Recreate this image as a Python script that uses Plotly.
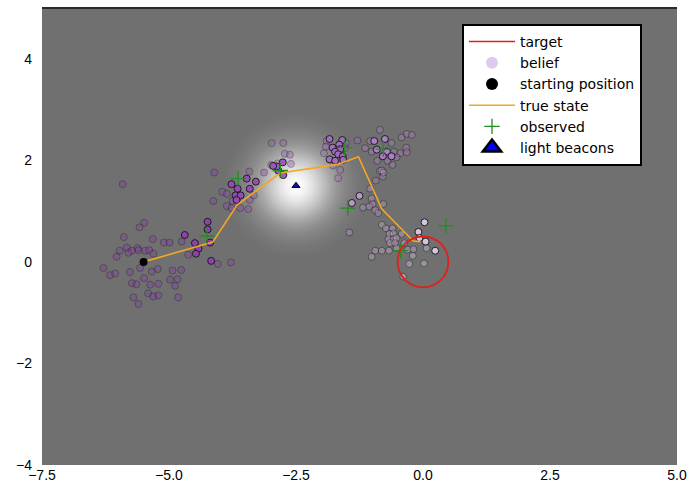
import math
import plotly.graph_objects as go

# ---------------- data ----------------
true_x = [-5.50, -4.14, -3.66, -2.81, -1.68, -1.27, -0.81, -0.19, -0.05]
true_y = [0.00, 0.39, 1.12, 1.75, 1.92, 2.07, 1.04, 0.41, 0.40]

obs_x = [-4.25, -3.64, -2.81, -1.54, -0.78, -1.48, -0.44, 0.45]
obs_y = [0.51, 1.64, 1.80, 2.25, 2.22, 1.06, 0.22, 0.71]

start_x = [-5.50]
start_y = [0.00]

beacon_x = [-2.5]
beacon_y = [1.5]

target_center = (0.0, 0.0)
target_radius = 0.5

# belief particles per time step: (faded, solid)
belief_steps = [
    # step 1
    dict(faded=[(-5.91, 1.53), (-5.49, 0.77), (-5.58, 0.68), (-5.89, 0.49), (-5.32, 0.45), (-5.10, 0.38),
                (-4.99, 0.38), (-4.75, 0.40), (-5.83, 0.28), (-5.73, 0.22), (-5.80, 0.18), (-5.62, 0.27),
                (-5.60, 0.23), (-5.47, 0.22), (-5.39, 0.23), (-5.31, 0.16), (-5.97, 0.22), (-6.03, 0.10),
                (-6.29, -0.12), (-6.16, -0.26), (-6.06, -0.23), (-5.77, -0.20), (-5.57, -0.12), (-5.34, -0.19),
                (-5.22, -0.14), (-4.93, -0.17), (-4.76, -0.16), (-5.49, -0.32), (-4.98, -0.35), (-4.83, -0.34),
                (-5.73, -0.42), (-5.64, -0.44), (-5.37, -0.45), (-5.21, -0.43), (-4.88, -0.47), (-5.41, -0.62),
                (-5.31, -0.68), (-5.21, -0.66), (-5.70, -0.70), (-4.82, -0.70), (-5.60, -0.83)],
         solid=[]),
    # step 2
    dict(faded=[(-4.62, 0.14), (-4.04, -0.04), (-3.78, -0.01), (-4.13, 1.20), (-4.11, 1.76)],
         solid=[(-4.24, 0.79), (-4.24, 0.64), (-4.19, 0.38), (-4.49, 0.37), (-4.42, 0.26), (-4.69, 0.53),
                (-4.17, 0.02), (-4.47, 0.16)]),
    # step 3
    dict(faded=[(-3.95, 1.38), (-3.86, 1.34), (-3.86, 1.10), (-3.77, 1.06), (-3.60, 1.06), (-3.44, 1.04),
                (-3.42, 1.78), (-3.13, 1.76), (-3.41, 1.22), (-3.33, 1.31), (-3.75, 1.20)],
         solid=[(-3.77, 1.53), (-3.65, 1.44), (-3.47, 1.64), (-3.29, 1.58), (-3.41, 1.44), (-3.69, 1.31),
                (-3.59, 1.31), (-3.67, 1.22)]),
    # step 4
    dict(faded=[(-2.98, 2.34), (-2.75, 2.34), (-2.72, 2.13), (-2.62, 2.11), (-2.60, 1.93), (-2.99, 1.91),
                (-2.86, 1.94)],
         solid=[(-2.75, 1.71), (-2.85, 1.80), (-2.88, 1.88), (-2.76, 1.96), (-2.95, 1.89)]),
    # step 5
    dict(faded=[(-1.90, 2.38), (-1.52, 2.34), (-1.91, 2.27), (-1.54, 2.24), (-1.95, 2.14), (-1.77, 1.90),
                (-1.63, 1.81), (-1.67, 1.65), (-1.29, 2.39)],
         solid=[(-1.84, 2.42), (-1.59, 2.40), (-1.78, 2.25), (-1.65, 2.31), (-1.63, 2.22), (-1.73, 2.17),
                (-1.67, 2.12), (-1.58, 2.08), (-1.84, 2.02), (-1.73, 1.99), (-1.57, 2.01)]),
    # step 6
    dict(faded=[(-0.85, 2.60), (-1.04, 2.38), (-0.62, 2.34), (-0.42, 2.45), (-0.32, 2.52), (-0.22, 2.50),
                (-1.14, 2.24), (-1.01, 2.17), (-0.57, 2.17), (-0.45, 2.14), (-0.33, 2.25), (-0.32, 2.16),
                (-0.52, 2.06), (-0.90, 1.99), (-0.70, 1.99), (-0.60, 1.91), (-0.85, 1.79), (-0.79, 1.68),
                (-0.93, 1.60)],
         solid=[(-0.96, 2.38), (-0.75, 2.42), (-0.91, 2.21), (-0.71, 2.17), (-0.62, 2.08), (-0.79, 2.08)]),
    # step 7
    dict(faded=[(-1.18, 1.07), (-1.04, 1.44), (-1.01, 1.25), (-0.99, 1.14), (-1.06, 1.09), (-0.94, 1.02),
                (-0.78, 1.14), (-0.88, 0.96), (-0.81, 1.80), (-0.78, 1.76), (-1.45, 0.58)],
         solid=[(-1.25, 1.30), (-1.40, 1.16)]),
    # step 8
    dict(faded=[(-0.81, 0.73), (-0.73, 0.66), (-0.60, 0.66), (-0.66, 0.55), (-0.58, 0.56), (-0.42, 0.55),
                (-0.68, 0.45), (-0.58, 0.45), (-0.52, 0.47), (-0.65, 0.37), (-0.55, 0.37), (-0.37, 0.37),
                (-0.94, 0.22), (-0.81, 0.22), (-0.67, 0.22), (-0.52, 0.27), (-1.01, 0.10), (-0.30, 0.24),
                (-0.19, 0.25)],
         solid=[]),
    # step 9
    dict(faded=[(-0.27, -0.04), (0.02, -0.03), (0.07, 0.27), (-0.39, -0.29), (-0.20, 0.12)],
         solid=[(0.03, 0.78), (-0.09, 0.59), (0.05, 0.40), (0.24, 0.22), (-0.07, 0.47)]),
]

step_colors = ["#8a3ab0", "#8f3fb5", "#9549b9", "#9c58bd", "#a56bc1",
               "#b07fc8", "#bf98d0", "#ccb0da", "#dacae4"]

x_ticks = [-7.5, -5.0, -2.5, 0.0, 2.5, 5.0]
x_ticktext = ["\u22127.5", "\u22125.0", "\u22122.5", "0.0", "2.5", "5.0"]
y_ticks = [-4, -2, 0, 2, 4]
y_ticktext = ["\u22124", "\u22122", "0", "2", "4"]

# ---------------- figure ----------------
fig = go.Figure()

for i, step in enumerate(belief_steps):
    for kind, op in (("faded", 0.38), ("solid", 0.95)):
        pts = step[kind]
        if not pts:
            continue
        fig.add_trace(go.Scatter(
            x=[p[0] for p in pts], y=[p[1] for p in pts], mode="markers",
            marker=dict(size=7, color=step_colors[i], opacity=op,
                        line=dict(color="#1a1a1a", width=1)),
            showlegend=False, hoverinfo="skip"))

fig.add_trace(go.Scatter(x=true_x, y=true_y, mode="lines", name="true state",
                         line=dict(color="#f5a623", width=1.6), legendrank=4))
fig.add_trace(go.Scatter(x=obs_x, y=obs_y, mode="markers", name="observed",
                         marker=dict(symbol="cross-thin", size=11, line=dict(color="#1f8f1f", width=1.3)),
                         legendrank=5))
fig.add_trace(go.Scatter(x=start_x, y=start_y, mode="markers", name="starting position",
                         marker=dict(size=8, color="black"), showlegend=False))
fig.add_trace(go.Scatter(x=beacon_x, y=beacon_y, mode="markers", name="light beacons",
                         marker=dict(symbol="triangle-up", size=7, color="#1010c0",
                                     line=dict(color="black", width=1)), showlegend=False))

# legend-only entries
fig.add_trace(go.Scatter(x=[None], y=[None], mode="lines", name="target",
                         line=dict(color="#e0201c", width=1.5), legendrank=1))
fig.add_trace(go.Scatter(x=[None], y=[None], mode="markers", name="belief",
                         marker=dict(size=12, color="#ddcbef"), legendrank=2))
fig.add_trace(go.Scatter(x=[None], y=[None], mode="markers", name="starting position",
                         marker=dict(size=12, color="black"), legendrank=3))
fig.add_trace(go.Scatter(x=[None], y=[None], mode="markers", name="light beacons",
                         marker=dict(symbol="triangle-up", size=16, color="#0000ff",
                                     line=dict(color="black", width=2.5)), legendrank=6))

shapes = []
# radial glow around the light beacon
sigma = 0.57
n_rings = 60
r_max = 1.85
B = 0.0
for k in range(n_rings):
    r = r_max * (n_rings - k) / n_rings
    f = math.exp(-r * r / (2 * sigma * sigma))
    a = (f - B) / (1 - B) if B < 1 else 0
    B = f
    shapes.append(dict(type="circle", xref="x", yref="y", layer="below",
                       x0=beacon_x[0] - r, x1=beacon_x[0] + r,
                       y0=beacon_y[0] - r, y1=beacon_y[0] + r,
                       fillcolor="white", opacity=max(min(a, 1), 0), line=dict(width=0)))
# target circle
shapes.append(dict(type="circle", xref="x", yref="y", layer="above",
                   x0=target_center[0] - target_radius, x1=target_center[0] + target_radius,
                   y0=target_center[1] - target_radius, y1=target_center[1] + target_radius,
                   line=dict(color="#e0201c", width=1.8)))
# top frame line
shapes.append(dict(type="line", xref="paper", yref="paper", x0=0, x1=1, y0=1, y1=1,
                   line=dict(color="#2a2a2a", width=2)))

fig.update_layout(
    width=689, height=489,
    margin=dict(l=42, r=12, t=8, b=24, autoexpand=False),
    paper_bgcolor="white", plot_bgcolor="#707070",
    shapes=shapes,
    showlegend=True,
    legend=dict(x=0.6614, y=0.965, xanchor="left", yanchor="top",
                bgcolor="white", bordercolor="black", borderwidth=2,
                font=dict(family="DejaVu Sans", size=14, color="black"),
                tracegroupgap=0, itemsizing="trace", itemwidth=46),
    xaxis=dict(range=[-7.5, 5.0], showgrid=False, zeroline=False, showline=False, automargin=False,
               tickvals=x_ticks, ticktext=x_ticktext, ticks="",
               tickfont=dict(family="Liberation Sans", size=14, color="black")),
    yaxis=dict(range=[-4, 5], showgrid=False, zeroline=False, showline=False, automargin=False,
               tickvals=y_ticks, ticktext=y_ticktext, ticks="", ticklabelstandoff=9,
               tickfont=dict(family="Liberation Sans", size=14, color="black")),
)

fig.write_html("out.html")
